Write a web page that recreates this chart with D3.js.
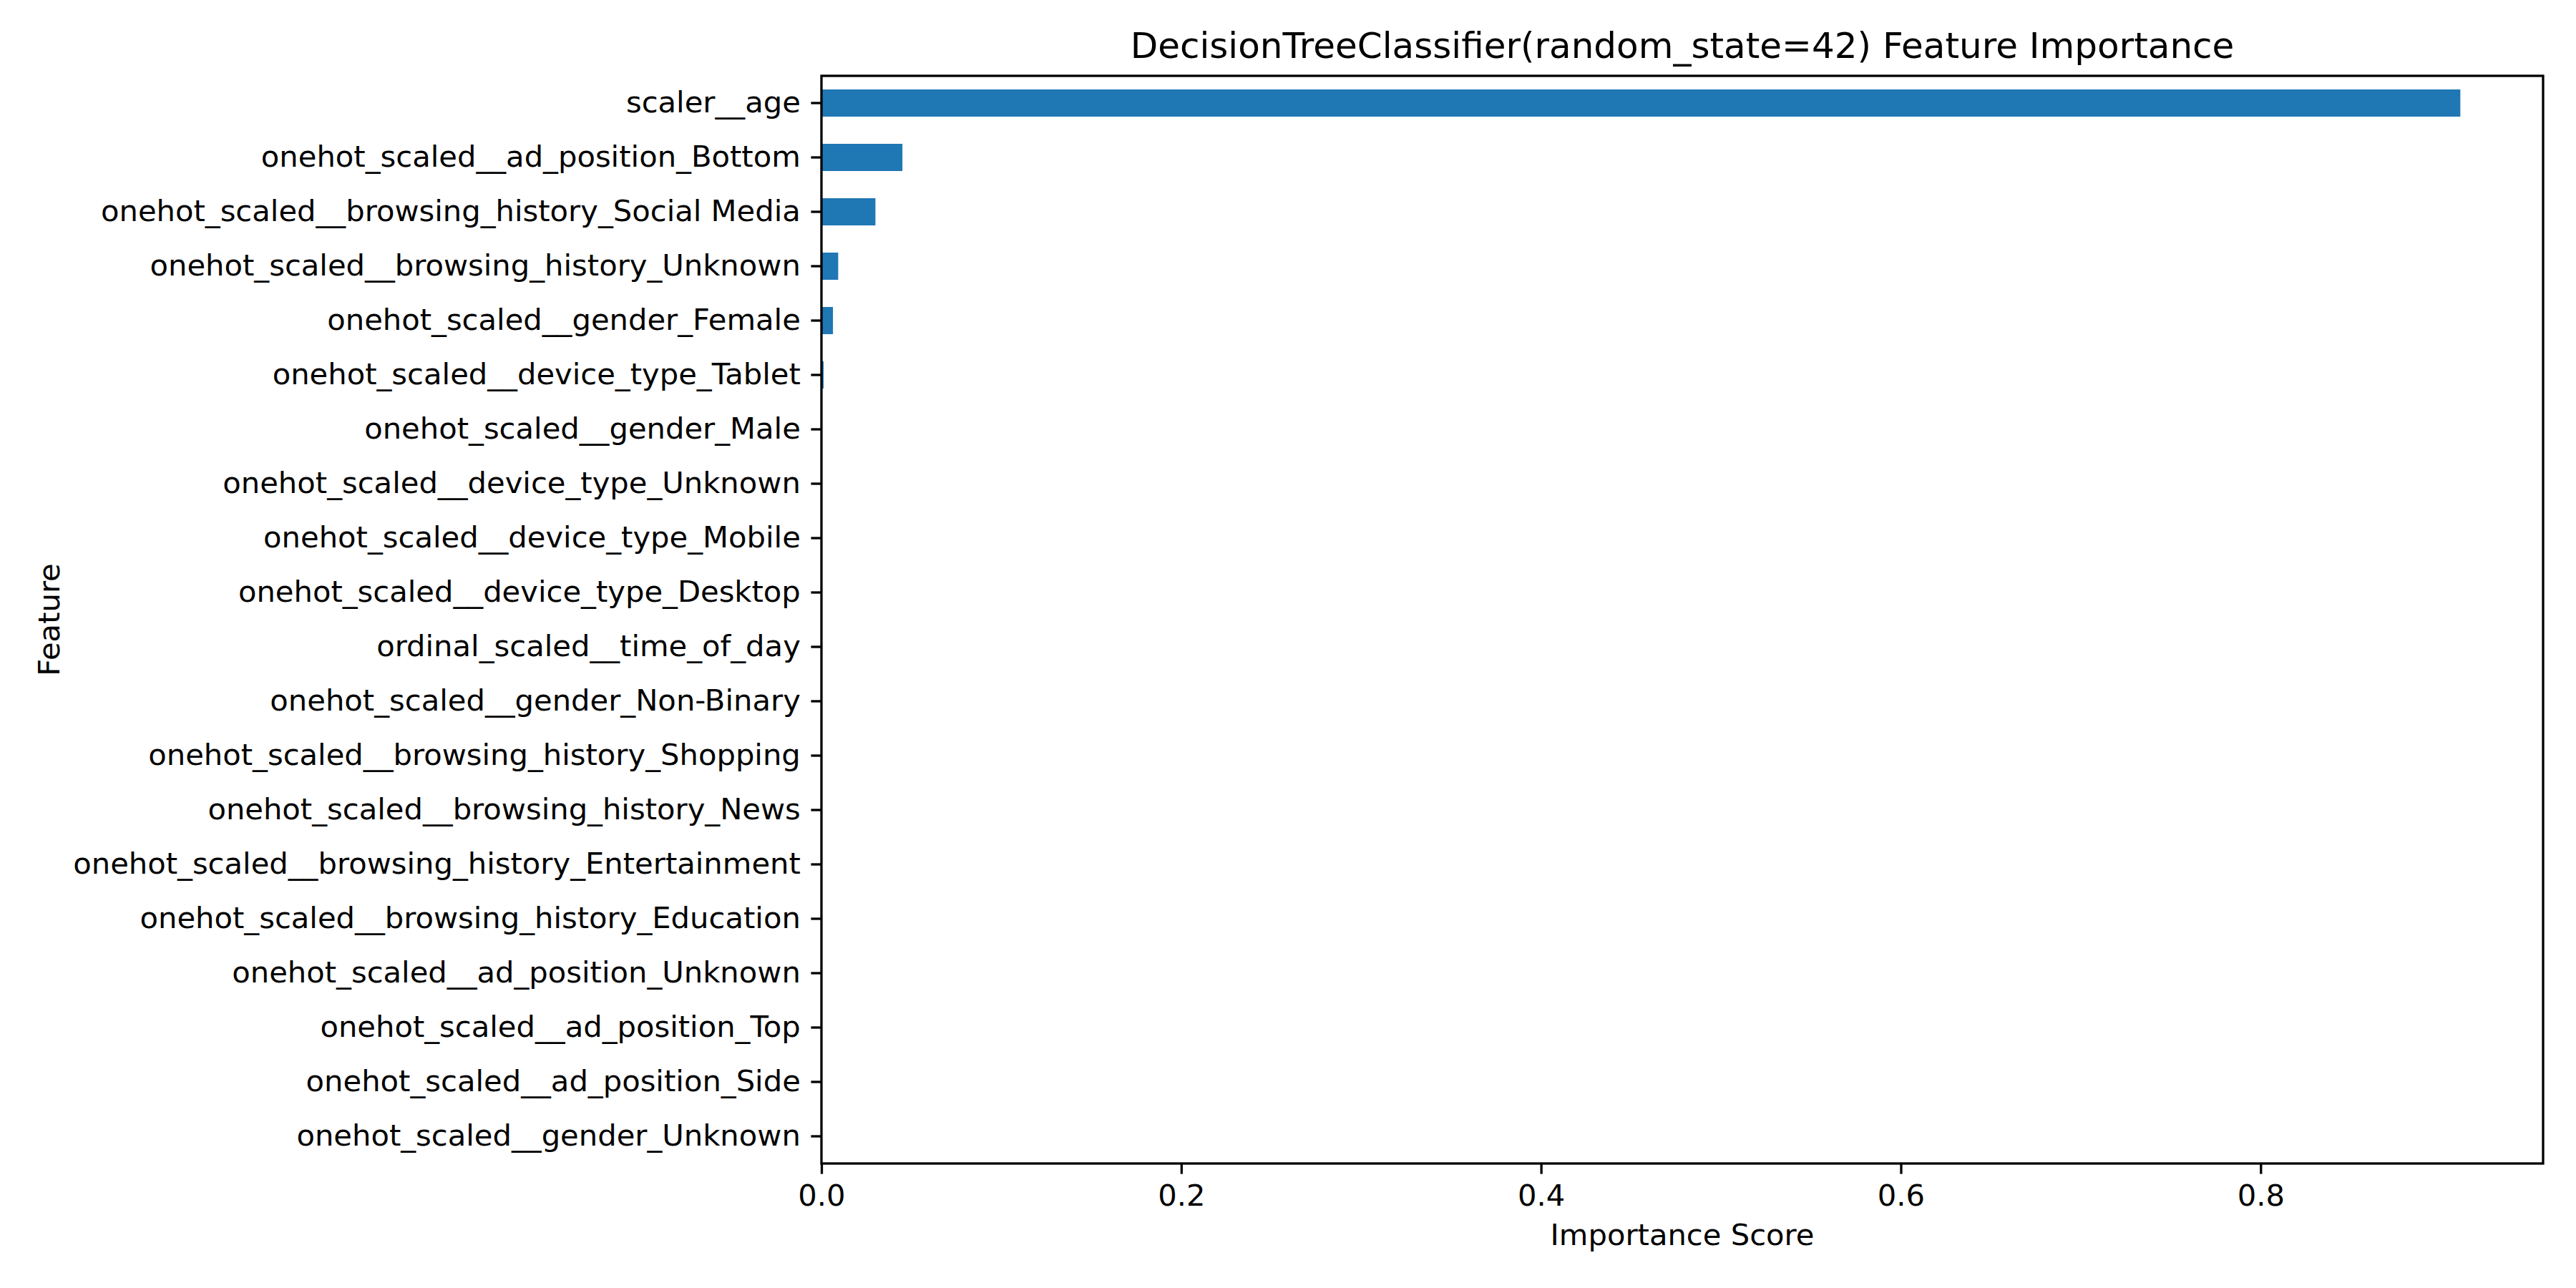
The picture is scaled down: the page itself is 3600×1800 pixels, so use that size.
<!DOCTYPE html>
<html><head><meta charset="utf-8">
<script src="https://cdn.jsdelivr.net/npm/d3@7"></script>
<style>body{margin:0;background:#fff}text{font-family:"DejaVu Sans",sans-serif}</style>
</head><body><svg id="c"></svg>
<script>
const features = ["scaler__age","onehot_scaled__ad_position_Bottom","onehot_scaled__browsing_history_Social Media",
  "onehot_scaled__browsing_history_Unknown","onehot_scaled__gender_Female","onehot_scaled__device_type_Tablet",
  "onehot_scaled__gender_Male","onehot_scaled__device_type_Unknown","onehot_scaled__device_type_Mobile",
  "onehot_scaled__device_type_Desktop","ordinal_scaled__time_of_day","onehot_scaled__gender_Non-Binary",
  "onehot_scaled__browsing_history_Shopping","onehot_scaled__browsing_history_News",
  "onehot_scaled__browsing_history_Entertainment","onehot_scaled__browsing_history_Education",
  "onehot_scaled__ad_position_Unknown","onehot_scaled__ad_position_Top","onehot_scaled__ad_position_Side",
  "onehot_scaled__gender_Unknown"];
const importance = [0.911,0.045,0.030,0.0093,0.0064,0.0012,0,0,0,0,0,0,0,0,0,0,0,0,0,0];
const xTicks = [0,0.2,0.4,0.6,0.8];

const W = 3600, H = 1800;
const m = {left:1148, right:3554, top:106, bottom:1626};
const svg = d3.select("#c").attr("width",W).attr("height",H);
const x = d3.scaleLinear().domain([0,0.957]).range([m.left,m.right]);
const y = d3.scaleBand().domain(features).range([m.top,m.bottom]).paddingInner(0.5).paddingOuter(0.25);

svg.append("g").selectAll("rect").data(features).join("rect")
  .attr("x",x(0)).attr("y",d=>y(d)).attr("height",y.bandwidth())
  .attr("width",(d,i)=>x(importance[i])-x(0)).attr("fill","#1f77b4");

const fs = 41.7;
const xa = svg.append("g").attr("transform",`translate(0,${m.bottom})`)
  .call(d3.axisBottom(x).tickValues(xTicks).tickFormat(d3.format(".1f")).tickSize(14.6).tickPadding(14.6));
const ya = svg.append("g").attr("transform",`translate(${m.left},0)`)
  .call(d3.axisLeft(y).tickSize(14.6).tickPadding(14.6));
[xa,ya].forEach(a=>{a.select(".domain").remove();
  a.selectAll("line").attr("stroke","#000").attr("stroke-width",3.3);
  a.selectAll("text").attr("font-size",fs).attr("fill","#000").attr("font-family","DejaVu Sans");});

svg.append("rect").attr("x",m.left).attr("y",m.top).attr("width",m.right-m.left).attr("height",m.bottom-m.top)
  .attr("fill","none").attr("stroke","#000").attr("stroke-width",3.3);

svg.append("text").attr("x",(m.left+m.right)/2).attr("y",m.top-25).attr("text-anchor","middle")
  .attr("font-size",50).text("DecisionTreeClassifier(random_state=42) Feature Importance");
svg.append("text").attr("x",(m.left+m.right)/2).attr("y",1740).attr("text-anchor","middle")
  .attr("font-size",fs).text("Importance Score");
svg.append("text").attr("transform",`translate(83,${(m.top+m.bottom)/2}) rotate(-90)`).attr("text-anchor","middle")
  .attr("font-size",fs).text("Feature");
</script></body></html>
